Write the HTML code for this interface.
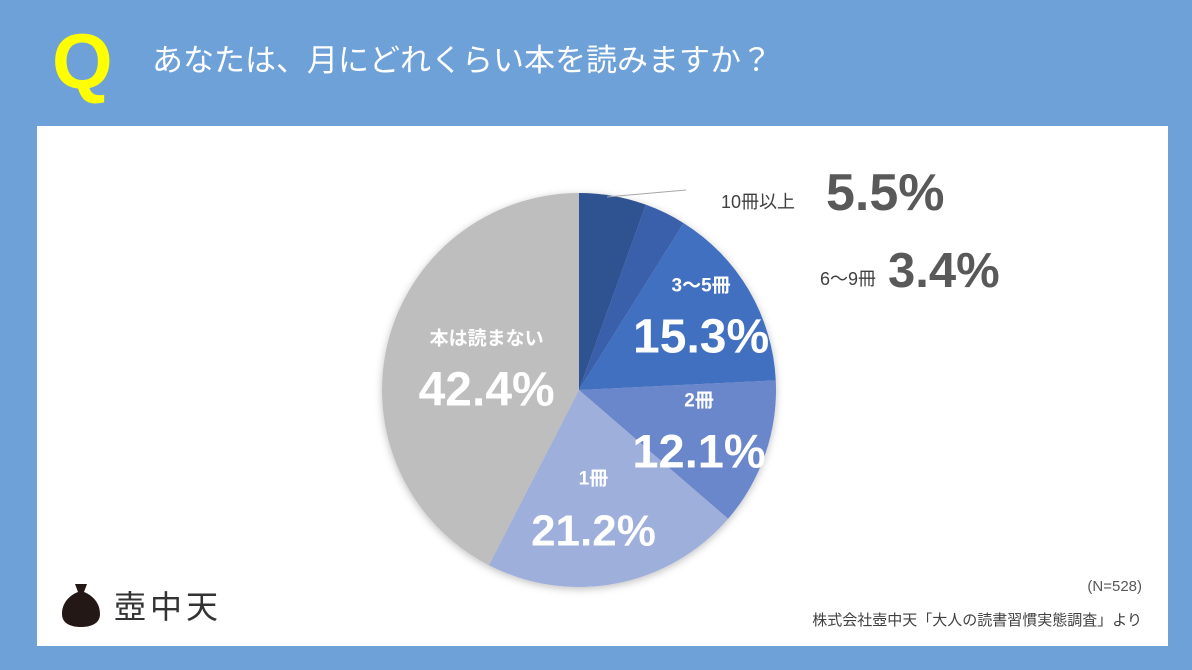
<!DOCTYPE html>
<html><head><meta charset="utf-8">
<style>
body{margin:0;width:1192px;height:670px;background:#6fa1d9;font-family:"Liberation Sans","Noto Sans CJK JP",sans-serif;overflow:hidden;position:relative}
.abs{position:absolute}
</style></head><body>
<div class="abs" style="left:52px;top:16px;font-size:78px;font-weight:bold;color:#ffff00;line-height:90px">Q</div>
<div class="abs" style="left:152px;top:41px;font-size:31px;color:#fff;line-height:40px">あなたは、月にどれくらい本を読みますか？</div>
<div class="abs" style="left:37px;top:126px;width:1131px;height:520px;background:#fff"></div>
<svg class="abs" style="left:0;top:0" width="1192" height="670">
<defs><filter id="sh" x="-10%" y="-10%" width="120%" height="120%"><feDropShadow dx="0" dy="2" stdDeviation="4" flood-opacity="0.25"/></filter></defs>
<g id="slices" filter="url(#sh)"></g>
<line x1="607" y1="197" x2="686" y2="190" stroke="#a6a6a6" stroke-width="1"/>
<g id="labels"></g>
</svg>
<div class="abs" style="right:50px;top:578px;font-size:15px;color:#595959">(N=528)</div>
<div class="abs" style="right:50px;top:609px;font-size:15px;color:#404040">株式会社壺中天「大人の読書習慣実態調査」より</div>
<div class="abs" style="left:60px;top:582px;display:flex;align-items:center">
<svg width="42" height="46"><path d="M15 2h12l-3 8c10 4 16 12 16 22c0 9-8 13-19 13S2 41 2 32c0-10 6-18 16-22z" fill="#231815"/></svg>
<span style="font-size:32px;color:#333;margin-left:12px;letter-spacing:4px">壺中天</span></div>
<script>
const categories=["10冊以上","6〜9冊","3〜5冊","2冊","1冊","本は読まない"];
const values=[5.5,3.4,15.3,12.1,21.2,42.4];
const labels=["5.5%","3.4%","15.3%","12.1%","21.2%","42.4%"];
const colors=["#2f5290","#3a60ab","#4270c0","#6b87cb","#9eafdb","#bebebe"];
const cx=579,cy=390,r=197,NS="http://www.w3.org/2000/svg";
const total=values.reduce((a,b)=>a+b,0);
function pt(a,rr){return [cx+rr*Math.sin(a),cy-rr*Math.cos(a)];}
let acc=0;const g=document.getElementById('slices'),lg=document.getElementById('labels');
const mids=[];
values.forEach((v,i)=>{
 const a0=acc/total*2*Math.PI;acc+=v;const a1=acc/total*2*Math.PI;mids.push((a0+a1)/2);
 const p0=pt(a0,r),p1=pt(a1,r);
 const p=document.createElementNS(NS,'path');
 p.setAttribute('d',`M${cx},${cy}L${p0[0]},${p0[1]}A${r},${r} 0 ${a1-a0>Math.PI?1:0} 1 ${p1[0]},${p1[1]}Z`);
 p.setAttribute('fill',colors[i]);
 
 
 g.appendChild(p);
});
function txt(x,y,s,size,fill,bold,anchor){
 const t=document.createElementNS(NS,'text');
 t.setAttribute('x',x);t.setAttribute('y',y);t.setAttribute('font-size',size);t.setAttribute('fill',fill);
 t.setAttribute('text-anchor',anchor||'middle');if(bold)t.setAttribute('font-weight','bold');
 t.setAttribute('font-family','"Liberation Sans","Noto Sans CJK JP",sans-serif');
 t.textContent=s;
 
 
 lg.appendChild(t);
}
txt(795,208,categories[0],18,'#404040',false,'end');
txt(826,210,labels[0],52,'#595959',true,'start');
txt(876,285,categories[1],18,'#404040',false,'end');
txt(888,287,labels[1],49,'#595959',true,'start');
const rf=[0,0,145,127,123,95];
const fs=[0,0,48,47,44,48];
const ox=[0,0,-3,0,-9,0],oy=[0,0,-4,-4,-5,-2];
for(let i=2;i<6;i++){
 const [x,y]=pt(mids[i],rf[i]);
 txt(x+ox[i],y+oy[i]-21,categories[i],19,'#fff',true);
 txt(x+ox[i],y+oy[i]+40,labels[i],fs[i],'#fff',true);
}
</script>
</body></html>
